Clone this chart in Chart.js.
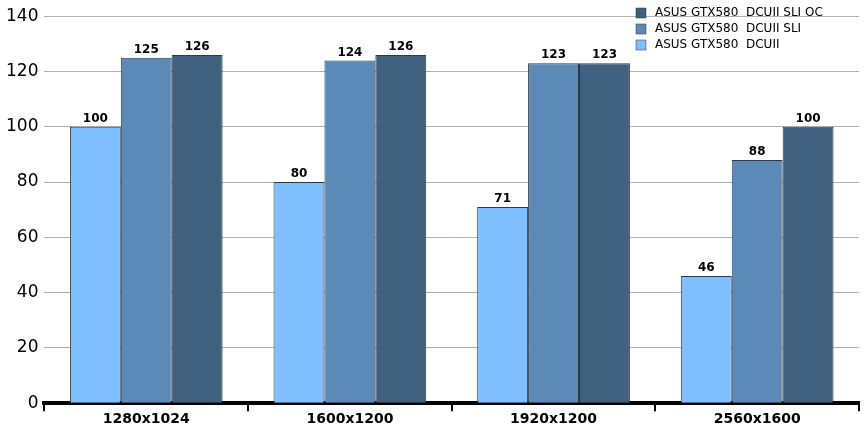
<!DOCTYPE html>
<html><head><meta charset="utf-8">
<script src="https://cdn.jsdelivr.net/npm/chart.js@4"></script>
<style>html,body{margin:0;background:#fff}#wrap{width:868px;height:432px}</style>
</head><body><div id="wrap"><canvas id="chart"></canvas></div>
<script>
const categories = ["1280x1024", "1600x1200", "1920x1200", "2560x1600"];
const dcuii = [100, 80, 71, 46];
const dcuiiSli = [125, 124, 123, 88];
const dcuiiSliOc = [126, 126, 123, 100];
const yTicks = [0, 20, 40, 60, 80, 100, 120, 140];

const FONT = "'DejaVu Sans', Verdana, sans-serif";

// value labels over bars
const barLabels = {
    id: "barLabels",
    afterDatasetsDraw(chart) {
        const ctx = chart.ctx;
        ctx.save();
        ctx.font = "bold 12px " + FONT;
        ctx.fillStyle = "#000";
        ctx.textAlign = "center";
        ctx.textBaseline = "bottom";
        chart.data.datasets.forEach((ds, i) => {
            chart.getDatasetMeta(i).data.forEach((bar, j) => {
                ctx.fillText(ds.data[j], bar.x, bar.y - 2);
            });
        });
        ctx.restore();
    }
};

// legend in top right, reversed order
const cornerLegend = {
    id: "cornerLegend",
    afterDraw(chart) {
        const ctx = chart.ctx;
        ctx.save();
        ctx.font = "12px " + FONT;
        ctx.textBaseline = "middle";
        const list = chart.data.datasets.slice().reverse();
        list.forEach((ds, i) => {
            const y = 13 + i * 16;
            ctx.fillStyle = ds.backgroundColor;
            ctx.fillRect(636, y - 5, 10, 10);
            ctx.strokeStyle = "#333";
            ctx.lineWidth = 0.5;
            ctx.strokeRect(636, y - 5, 10, 10);
            ctx.fillStyle = "#000";
            ctx.fillText(ds.label, 655, y);
        });
        ctx.restore();
    }
};

new Chart(document.getElementById("chart"), {
    type: "bar",
    data: {
        labels: categories,
        datasets: [
            { label: "ASUS GTX580  DCUII", data: dcuii, backgroundColor: "#80BFFF" },
            { label: "ASUS GTX580  DCUII SLI", data: dcuiiSli, backgroundColor: "#5B8AB8" },
            { label: "ASUS GTX580  DCUII SLI OC", data: dcuiiSliOc, backgroundColor: "#3F607F" }
        ].map(d => Object.assign(d, { borderColor: "#2a3b4c", borderWidth: 1, categoryPercentage: 0.75, barPercentage: 1 }))
    },
    options: {
        responsive: true,
        maintainAspectRatio: false,
        animation: false,
        layout: { padding: { top: 14, right: 9, left: 0, bottom: 4 } },
        plugins: { legend: { display: false }, tooltip: { enabled: false } },
        scales: {
            x: {
                grid: { offset: true, drawOnChartArea: false, color: "#000", lineWidth: 2, tickLength: 8 },
                border: { display: true, color: "#000", width: 4 },
                ticks: { color: "#000", font: { family: FONT, size: 14, weight: "bold" }, padding: 0 }
            },
            y: {
                min: 0, max: 140,
                afterBuildTicks(axis) { axis.ticks = yTicks.map(v => ({ value: v })); },
                grid: { color: "#b0b0b0", lineWidth: 1, drawTicks: false },
                border: { display: false },
                ticks: { color: "#000", font: { family: FONT, size: 17 }, padding: 6 }
            }
        }
    },
    plugins: [barLabels, cornerLegend]
});
</script></body></html>
